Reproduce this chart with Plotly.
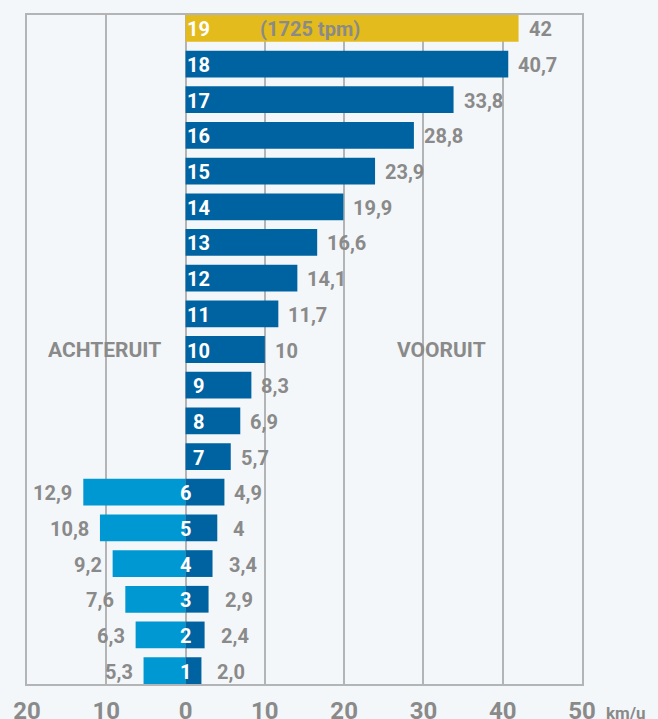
import plotly.graph_objects as go

gears = list(range(1, 20))
forward = [2.0, 2.4, 2.9, 3.4, 4, 4.9, 5.7, 6.9, 8.3, 10, 11.7, 14.1, 16.6, 19.9, 23.9, 28.8, 33.8, 40.7, 42]
forward_labels = ["2,0", "2,4", "2,9", "3,4", "4", "4,9", "5,7", "6,9", "8,3", "10", "11,7", "14,1",
                  "16,6", "19,9", "23,9", "28,8", "33,8", "40,7", "42"]
reverse_gears = [1, 2, 3, 4, 5, 6]
reverse = [5.3, 6.3, 7.6, 9.2, 10.8, 12.9]
reverse_labels = ["5,3", "6,3", "7,6", "9,2", "10,8", "12,9"]
tick_vals = [-20, -10, 0, 10, 20, 30, 40, 50]
tick_text = ["20", "10", "0", "10", "20", "30", "40", "50"]

DARK = "#0063a1"
LIGHT = "#0098d2"
GOLD = "#e3bb1d"
GRAY = "#8a8a8a"
BG = "#f4f7f9"
GRID = "#b2b4b6"
FONT = "Roboto"

fig = go.Figure()
fig.add_trace(go.Bar(
    y=reverse_gears, x=[-v for v in reverse], orientation="h",
    marker=dict(color=LIGHT, line=dict(width=0)), width=0.75, hoverinfo="skip"))
fig.add_trace(go.Bar(
    y=gears, x=forward, orientation="h",
    marker=dict(color=[GOLD if g == 19 else DARK for g in gears], line=dict(width=0)),
    width=0.75, hoverinfo="skip"))

ann = []
for g, v, t in zip(gears, forward, forward_labels):
    ann.append(dict(x=v, y=g, text=t, showarrow=False, xanchor="left", yanchor="middle",
                    xshift=14 if g <= 5 else 8, yshift=-1,
                    font=dict(family=FONT, size=20, color=GRAY, weight="bold")))
    ann.append(dict(x=0, y=g, text=str(g), showarrow=False, xanchor="center", yanchor="middle",
                    xshift=0 if g <= 6 else 13, yshift=-1,
                    font=dict(family=FONT, size=20, color="white", weight="bold")))
for g, v, t in zip(reverse_gears, reverse, reverse_labels):
    ann.append(dict(x=-v, y=g, text=t, showarrow=False, xanchor="right", yanchor="middle",
                    xshift=-9, yshift=-1,
                    font=dict(family=FONT, size=20, color=GRAY, weight="bold")))
ann.append(dict(x=15.7, y=19, text="(1725 tpm)", showarrow=False, xanchor="center", yanchor="middle",
                yshift=-1, font=dict(family=FONT, size=20, color=GRAY, weight="bold")))
ann.append(dict(x=-10.2, y=10, text="ACHTERUIT", showarrow=False, xanchor="center", yanchor="middle",
                font=dict(family=FONT, size=21, color=GRAY, weight="bold")))
ann.append(dict(x=32.3, y=10, text="VOORUIT", showarrow=False, xanchor="center", yanchor="middle",
                font=dict(family=FONT, size=21, color=GRAY, weight="bold")))
ann.append(dict(xref="paper", yref="paper", x=1.04, y=0, text="km/u", showarrow=False,
                xanchor="left", yanchor="top", yshift=-17,
                font=dict(family=FONT, size=17, color=GRAY, weight="bold")))

fig.update_layout(
    width=658, height=719,
    margin=dict(l=26.5, r=76, t=15, b=35),
    paper_bgcolor=BG, plot_bgcolor=BG,
    barmode="overlay", showlegend=False,
    annotations=ann,
    xaxis=dict(range=[-20, 50], tickvals=tick_vals, ticktext=tick_text,
               showgrid=True, gridcolor=GRID, gridwidth=1.5,
               zeroline=True, zerolinecolor=GRID, zerolinewidth=1.5,
               showline=True, linecolor=GRID, linewidth=2, mirror=True,
               ticks="", ticklabelstandoff=4, automargin=False,
               tickfont=dict(family=FONT, size=24, color=GRAY, weight="bold"),
               fixedrange=True),
    yaxis=dict(range=[0.625, 19.375], showticklabels=False, showgrid=False, zeroline=False,
               showline=True, linecolor=GRID, linewidth=2, mirror=True, ticks="",
               automargin=False, fixedrange=True),
)

fig.write_html(
    "out.html",
    config={"displayModeBar": False},
    post_script="document.body.style.margin='0';document.body.style.overflow='hidden';"
                "document.documentElement.style.overflow='hidden';",
)
